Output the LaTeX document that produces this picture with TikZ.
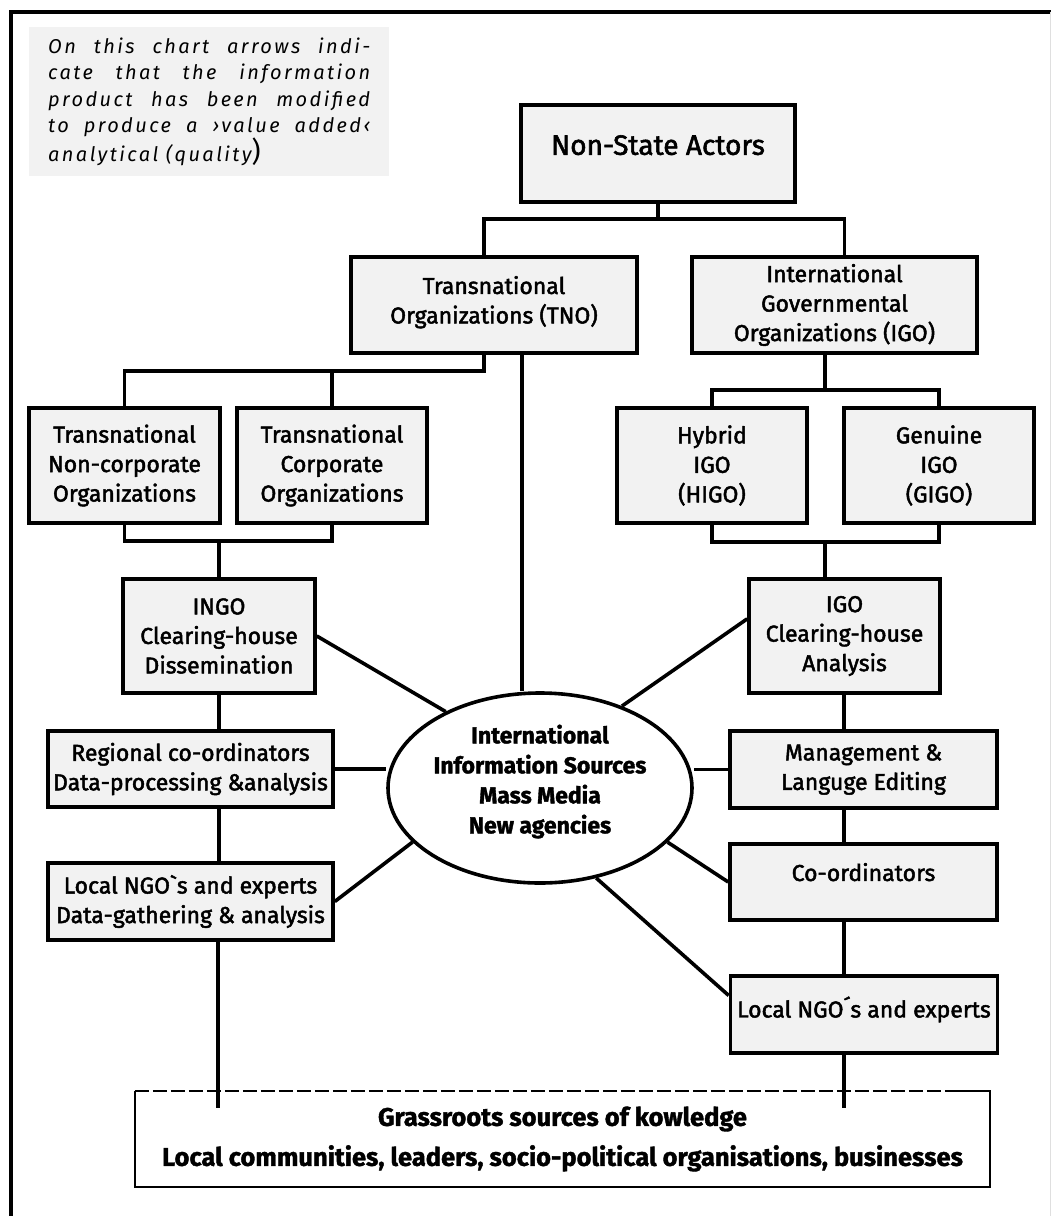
\documentclass[tikz,border=0pt]{standalone}
\usepackage{fontspec}
\setmainfont{Fira Sans}[UprightFeatures={FakeBold=2}, BoldFeatures={FakeBold=1.5}]
\newfontfamily\notefont[LetterSpace=12]{Fira Sans}
\usetikzlibrary{shapes.geometric}
\definecolor{boxgray}{HTML}{F2F2F2}

\begin{document}
\begin{tikzpicture}[x=1pt,y=-1pt,
    box/.style={draw, line width=3.6pt, fill=boxgray, align=center, inner sep=2pt,
      font=\fontsize{23}{29.5}\selectfont},
    hub/.style={ellipse, draw, line width=3.6pt, fill=white, align=center, inner sep=0pt,
      font=\fontsize{23}{30}\selectfont\bfseries},
    base/.style={align=center, inner sep=0pt, font=\fontsize{25.5}{40}\selectfont\bfseries},
    note/.style={fill=boxgray, align=justify, text width=322pt, inner xsep=19pt,
      minimum height=149pt, font=\notefont\itshape\fontsize{20}{26.5}\selectfont},
    link/.style={line width=3.6pt},
    thinline/.style={line width=1.6pt}]
\useasboundingbox (0,0) rectangle (1051,1216);

% frame
\draw[line width=4pt] (11,1216) -- (11,11.5) -- (1051,11.5);
\draw[gray!25, line width=1pt] (1050,11.5) -- (1050,1216);

% remark
\node[note, anchor=north west] (note) at (29,27)
  {On this chart arrows indi-\linebreak cate that the information\linebreak
   product has been modified\linebreak to produce a ›value added‹\linebreak
   analytical (quality{\upshape\fontsize{28}{28}\selectfont)}};

% top levels
\node[box, minimum width=274pt, minimum height=97pt, text depth=17pt,
  font=\fontsize{28}{34}\selectfont] (nsa) at (658,153.5) {Non-State Actors};
\node[box, minimum width=286pt, minimum height=96pt] (tno) at (494,305)
  {Transnational\\Organizations (TNO)\\[-19pt]\mbox{}};
\node[box, minimum width=285pt, minimum height=96pt] (igo) at (834.5,305)
  {International\\Governmental\\Organizations (IGO)};

\node[box, minimum width=191pt, minimum height=115pt] (tnco) at (124.5,465.5)
  {Transnational\\Non-corporate\\Organizations};
\node[box, minimum width=190pt, minimum height=115pt] (tco) at (332,465.5)
  {Transnational\\Corporate\\Organizations};
\node[box, minimum width=190pt, minimum height=115pt] (higo) at (712,465.5)
  {Hybrid\\IGO\\(HIGO)};
\node[box, minimum width=190pt, minimum height=115pt] (gigo) at (939,465.5)
  {Genuine\\IGO\\(GIGO)};

% left chain
\node[box, minimum width=192pt, minimum height=114pt] (ingo) at (219,636)
  {INGO\\Clearing-house\\Dissemination};
\node[box, minimum width=285pt, minimum height=76pt] (reg) at (190.5,769)
  {Regional co-ordinators\\Data-processing \&analysis};
\node[box, minimum width=285pt, minimum height=77pt] (lngol) at (190.5,901.5)
  {Local NGO\textasciigrave s and experts\\Data-gathering \& analysis};

% right chain
\node[box, minimum width=191pt, minimum height=114pt] (igoch) at (844.5,636)
  {IGO\\Clearing-house\\Analysis};
\node[box, minimum width=267pt, minimum height=77pt] (mgmt) at (863.5,769.5)
  {Management \&\\Languge Editing};
\node[box, minimum width=267pt, minimum height=76pt, text depth=20pt] (coord) at (863.5,882)
  {Co-ordinators};
\node[box, minimum width=267pt, minimum height=77pt, text depth=15pt] (lngor) at (864,1014.5)
  {Local NGO´s and experts};

% centre
\node[hub, minimum width=304pt, minimum height=190pt] (ell) at (540,788)
  {International\\Information Sources\\Mass Media\\New agencies\\[-12pt]\mbox{}};

% grassroots
\node[base, minimum width=855pt, minimum height=96pt] (grass) at (562.5,1139)
  {Grassroots sources of kowledge\\Local communities, leaders, socio-political organisations, businesses};
\draw[thinline] ([xshift=-32pt]grass.north east) -- (grass.north east) -- (grass.south east)
  -- (grass.south west) -- (grass.north west);
\draw[thinline, dash pattern=on 14pt off 4pt] (grass.north west) -- ([xshift=-32pt]grass.north east);

% tree links
\coordinate (topbar) at (658,219);
\draw[link] (nsa.south) -- (topbar);
\draw[link] ([xshift=-10pt]tno.north) |- (topbar) -| ([xshift=10pt]igo.north);

\coordinate (tnobar) at (484,371);
\draw[link] (tnobar |- tno.south) -- (tnobar) -| (tnco.north);
\draw[link] (tco.north) -- (tco.north |- tnobar);
\coordinate (tnjoin) at (219,541);
\draw[link] (tnco.south) |- (tnjoin) -| (tco.south);
\draw[link] (tnjoin) -- (ingo.north);
\draw[link] (ingo.south) -- (ingo.south |- reg.north);
\draw[link] (ingo.south |- reg.south) -- (ingo.south |- lngol.north);
\coordinate (lfoot) at (218,1108);
\draw[link] (lfoot |- lngol.south) -- (lfoot);

\coordinate (igobar) at (825,390);
\draw[link] (igobar |- igo.south) -- (igobar);
\draw[link] (higo.north) |- (igobar) -| (gigo.north);
\coordinate (igjoin) at (825,542);
\draw[link] (higo.south) |- (igjoin) -| (gigo.south);
\draw[link] (igjoin) -- (igjoin |- igoch.north);
\coordinate (rfoot) at (844,1108);
\draw[link] (rfoot |- igoch.south) -- (rfoot |- mgmt.north);
\draw[link] (rfoot |- mgmt.south) -- (rfoot |- coord.north);
\draw[link] (rfoot |- coord.south) -- (rfoot |- lngor.north);
\draw[link] (rfoot |- lngor.south) -- (rfoot);

% spokes to the centre
\draw[link] ([xshift=28pt]tno.south) -- ([xshift=28pt]tno.south |- ell.north);
\draw[link] (ingo.east) -- (ell.141);
\draw[link] (reg.east) -- (reg.east -| ell.west);
\draw[link] (lngol.east) -- (ell.203);
\draw[link] (igoch.170) -- (ell.45);
\draw[link] (mgmt.west) -- (mgmt.west -| ell.east);
\draw[link] (coord.west) -- (ell.337);
\draw[link] (lngor.172) -- (ell.302);
\end{tikzpicture}
\end{document}
